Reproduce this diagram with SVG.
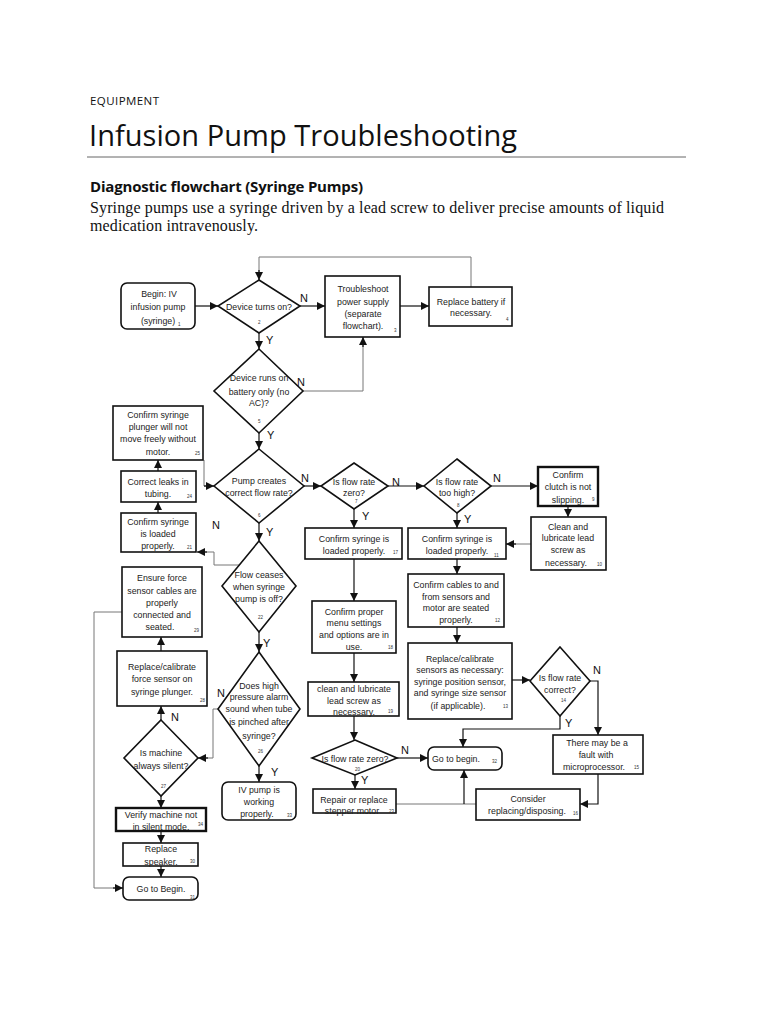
<svg xmlns="http://www.w3.org/2000/svg" width="768" height="1024" viewBox="0 0 768 1024">
<style>
.bg{fill:#fff}
.box{fill:#fff;stroke:#111;stroke-width:1.6}
.thick{stroke-width:2.4}
.t{font-family:"Liberation Sans",Arial,sans-serif;font-size:8.8px;text-anchor:middle;fill:#222}
.n{font-family:"Liberation Sans",Arial,sans-serif;font-size:4.5px;fill:#333}
.yn{font-family:"Liberation Sans",Arial,sans-serif;font-size:11px;fill:#111}
.c{fill:none;stroke:#111;stroke-width:1.2}
.g{fill:none;stroke:#777;stroke-width:1}
.hdr{font-family:"Open Sans","Liberation Sans",sans-serif;fill:#111}
.body{font-family:"Liberation Serif",serif;font-size:16px;fill:#111}
</style>
<defs>
<marker id="ah" markerUnits="userSpaceOnUse" markerWidth="9" markerHeight="9" refX="8" refY="4" orient="auto">
<path d="M0,0 L8,4 L0,8 z" fill="#111"/>
</marker>
</defs>
<rect class="bg" x="0" y="0" width="768" height="1024"/>
<g id="header">
<text class="hdr" x="90" y="105" font-size="11.5" textLength="69">EQUIPMENT</text>
<text class="hdr" x="89" y="146" font-size="29" textLength="428">Infusion Pump Troubleshooting</text>
<line x1="87" y1="157" x2="686" y2="157" stroke="#666" stroke-width="1"/>
<text class="hdr" x="90" y="192" font-size="15" font-weight="bold" textLength="273">Diagnostic flowchart (Syringe Pumps)</text>
<text class="body" x="90" y="213" textLength="574">Syringe pumps use a syringe driven by a lead screw to deliver precise amounts of liquid</text>
<text class="body" x="90" y="231" textLength="168">medication intravenously.</text>
</g>
<g id="connectors">
<path class="c" marker-end="url(#ah)" d="M195,306 H218"/>
<path class="c" marker-end="url(#ah)" d="M300,306 H325"/>
<path class="c" marker-end="url(#ah)" d="M400,306 H429"/>
<path class="g" d="M471,287 V257 H259 V272"/>
<path class="c" marker-end="url(#ah)" d="M259,270 V280"/>
<path class="c" marker-end="url(#ah)" d="M259,333 V349"/>
<path class="g" d="M303,391 H363 V345"/>
<path class="c" marker-end="url(#ah)" d="M363,347 V337"/>
<path class="c" marker-end="url(#ah)" d="M259,433 V449"/>
<path class="g" d="M204,460 V486 H206"/>
<path class="c" marker-end="url(#ah)" d="M204,486 H214"/>
<path class="c" marker-end="url(#ah)" d="M158,471 V460"/>
<path class="c" marker-end="url(#ah)" d="M158,513 V502"/>
<path class="g" d="M239,565 H214 V552 H205"/>
<path class="c" marker-end="url(#ah)" d="M207,552 H197"/>
<path class="c" marker-end="url(#ah)" d="M259,523 V541"/>
<path class="c" marker-end="url(#ah)" d="M259,632 V652"/>
<path class="g" d="M218,709 H213 V758 H206"/>
<path class="c" marker-end="url(#ah)" d="M208,758 H198"/>
<path class="c" marker-end="url(#ah)" d="M259,766 V782"/>
<path class="c" marker-end="url(#ah)" d="M161,720 V706"/>
<path class="c" marker-end="url(#ah)" d="M161,651 V637"/>
<path class="c" marker-end="url(#ah)" d="M161,796 V808"/>
<path class="c" marker-end="url(#ah)" d="M161,831 V843"/>
<path class="c" marker-end="url(#ah)" d="M161,866 V877"/>
<path class="g" d="M122,612 H94 V888 H115"/>
<path class="c" marker-end="url(#ah)" d="M113,888 H123"/>
<path class="c" marker-end="url(#ah)" d="M304,486 H321"/>
<path class="c" marker-end="url(#ah)" d="M388,486 H424"/>
<path class="c" marker-end="url(#ah)" d="M491,486 H538"/>
<path class="c" marker-end="url(#ah)" d="M568,506 V517"/>
<path class="g" d="M531,544 H514"/>
<path class="c" marker-end="url(#ah)" d="M516,544 H506"/>
<path class="c" marker-end="url(#ah)" d="M457,513 V528"/>
<path class="c" marker-end="url(#ah)" d="M354,509 V528"/>
<path class="c" marker-end="url(#ah)" d="M354,559 V601"/>
<path class="c" marker-end="url(#ah)" d="M354,653 V682"/>
<path class="c" marker-end="url(#ah)" d="M354,716 V740"/>
<path class="c" marker-end="url(#ah)" d="M397,758 H428"/>
<path class="c" marker-end="url(#ah)" d="M355,775 V789"/>
<path class="g" d="M396,804 H476"/>
<path class="c" marker-end="url(#ah)" d="M464,804 V770"/>
<path class="c" marker-end="url(#ah)" d="M457,559 V574"/>
<path class="c" marker-end="url(#ah)" d="M457,627 V643"/>
<path class="c" marker-end="url(#ah)" d="M512,680 H530"/>
<path class="c" marker-end="url(#ah)" d="M590,681 H598 V735"/>
<path class="c" marker-end="url(#ah)" d="M560,716 V729 H463 V747"/>
<path class="c" marker-end="url(#ah)" d="M598,774 V804 H580"/>
</g>
<g id="labels">
<text class="yn" x="300" y="302">N</text>
<text class="yn" x="266" y="344">Y</text>
<text class="yn" x="297" y="386">N</text>
<text class="yn" x="267" y="439">Y</text>
<text class="yn" x="301" y="482">N</text>
<text class="yn" x="266" y="536">Y</text>
<text class="yn" x="212" y="529">N</text>
<text class="yn" x="392" y="486">N</text>
<text class="yn" x="362" y="520">Y</text>
<text class="yn" x="493" y="482">N</text>
<text class="yn" x="464" y="523">Y</text>
<text class="yn" x="263" y="647">Y</text>
<text class="yn" x="217" y="697">N</text>
<text class="yn" x="271" y="776">Y</text>
<text class="yn" x="171" y="721">N</text>
<text class="yn" x="593" y="674">N</text>
<text class="yn" x="565" y="727">Y</text>
<text class="yn" x="401" y="754">N</text>
<text class="yn" x="361" y="784">Y</text>
</g>
<g id="n1"><rect class="box" x="121" y="283" width="74" height="46" rx="6"/>
<text class="t" x="159" y="297">Begin: IV</text><text class="t" x="158" y="310">infusion pump</text><text class="t" x="158" y="324">(syringe)</text><text class="n" x="178" y="326">1</text></g>
<g id="n2"><polygon class="box" points="259,280 300,306 259,333 218,306"/>
<text class="t" x="259" y="310">Device turns on?</text><text class="n" x="258" y="324">2</text></g>
<g id="n3"><rect class="box" x="325" y="276" width="75" height="61"/>
<text class="t" x="363" y="292">Troubleshoot</text><text class="t" x="363" y="305">power supply</text><text class="t" x="363" y="317">(separate</text><text class="t" x="363" y="329">flowchart).</text><text class="n" x="394" y="332">3</text></g>
<g id="n4"><rect class="box" x="429" y="287" width="83" height="39"/>
<text class="t" x="471" y="305">Replace battery if</text><text class="t" x="471" y="316">necessary.</text><text class="n" x="506" y="321">4</text></g>
<g id="n5"><polygon class="box" points="259,349 303,391 259,433 214,391"/>
<text class="t" x="259" y="381">Device runs on</text><text class="t" x="259" y="395">battery only (no</text><text class="t" x="259" y="406">AC)?</text><text class="n" x="258" y="423">5</text></g>
<g id="n25"><rect class="box" x="113" y="406" width="90" height="54"/>
<text class="t" x="158" y="418">Confirm syringe</text><text class="t" x="158" y="430">plunger will not</text><text class="t" x="158" y="442">move freely without</text><text class="t" x="158" y="455">motor.</text><text class="n" x="195" y="455">25</text></g>
<g id="n24"><rect class="box" x="121" y="471" width="75" height="31"/>
<text class="t" x="158" y="485">Correct leaks in</text><text class="t" x="158" y="497">tubing.</text><text class="n" x="187" y="498">24</text></g>
<g id="n21"><rect class="box" x="121" y="513" width="75" height="39"/>
<text class="t" x="158" y="525">Confirm syringe</text><text class="t" x="158" y="537">is loaded</text><text class="t" x="158" y="549">properly.</text><text class="n" x="187" y="549">21</text></g>
<g id="n6"><polygon class="box" points="259,449 304,486 259,523 214,486"/>
<text class="t" x="259" y="484">Pump creates</text><text class="t" x="259" y="496">correct flow rate?</text><text class="n" x="258" y="517">6</text></g>
<g id="n7"><polygon class="box" points="354,463 388,486 354,509 321,486"/>
<text class="t" x="354" y="485">Is flow rate</text><text class="t" x="354" y="496">zero?</text><text class="n" x="355" y="503">7</text></g>
<g id="n8"><polygon class="box" points="457,459 491,486 457,513 424,486"/>
<text class="t" x="457" y="485">Is flow rate</text><text class="t" x="457" y="496">too high?</text><text class="n" x="457" y="507">8</text></g>
<g id="n9"><rect class="box thick" x="538" y="467" width="60" height="39"/>
<text class="t" x="568" y="478">Confirm</text><text class="t" x="568" y="490">clutch is not</text><text class="t" x="568" y="503">slipping.</text><text class="n" x="592" y="501">9</text></g>
<g id="n10"><rect class="box" x="531" y="517" width="75" height="53"/>
<text class="t" x="568" y="530">Clean and</text><text class="t" x="568" y="541">lubricate lead</text><text class="t" x="568" y="553">screw as</text><text class="t" x="566" y="566">necessary.</text><text class="n" x="597" y="566">10</text></g>
<g id="n11"><rect class="box" x="408" y="528" width="98" height="31"/>
<text class="t" x="457" y="542">Confirm syringe is</text><text class="t" x="457" y="554">loaded properly.</text><text class="n" x="494" y="557">11</text></g>
<g id="n17"><rect class="box" x="305" y="528" width="97" height="31"/>
<text class="t" x="354" y="542">Confirm syringe is</text><text class="t" x="354" y="554">loaded properly.</text><text class="n" x="393" y="554">17</text></g>
<g id="n18"><rect class="box" x="312" y="601" width="84" height="52"/>
<text class="t" x="354" y="615">Confirm proper</text><text class="t" x="354" y="626">menu settings</text><text class="t" x="354" y="638">and options are in</text><text class="t" x="354" y="650">use.</text><text class="n" x="388" y="649">18</text></g>
<g id="n19"><rect class="box" x="308" y="682" width="91" height="34"/>
<text class="t" x="354" y="692">clean and lubricate</text><text class="t" x="354" y="704">lead screw as</text><text class="t" x="354" y="715">necessary.</text><text class="n" x="388" y="713">19</text></g>
<g id="n20"><polygon class="box" points="355,740 397,758 355,775 312,758"/>
<text class="t" x="355" y="762">Is flow rate zero?</text><text class="n" x="355" y="771">20</text></g>
<g id="n32"><rect class="box" x="428" y="747" width="74" height="23" rx="6"/>
<text class="t" x="456" y="762">Go to begin.</text><text class="n" x="492" y="763">32</text></g>
<g id="n23"><rect class="box" x="313" y="789" width="83" height="24"/>
<text class="t" x="354" y="803">Repair or replace</text><text class="t" x="352" y="814">stepper motor</text><text class="n" x="389" y="813">23</text></g>
<g id="n12"><rect class="box" x="408" y="574" width="96" height="53"/>
<text class="t" x="456" y="588">Confirm cables to and</text><text class="t" x="456" y="600">from sensors and</text><text class="t" x="456" y="611">motor are seated</text><text class="t" x="456" y="623">properly.</text><text class="n" x="495" y="622">12</text></g>
<g id="n13"><rect class="box" x="408" y="643" width="104" height="76"/>
<text class="t" x="460" y="662">Replace/calibrate</text><text class="t" x="460" y="673">sensors as necessary:</text><text class="t" x="460" y="685">syringe position sensor,</text><text class="t" x="460" y="696">and syringe size sensor</text><text class="t" x="458" y="709">(if applicable).</text><text class="n" x="503" y="708">13</text></g>
<g id="n14"><polygon class="box" points="560,647 590,681 560,716 530,681"/>
<text class="t" x="560" y="681">Is flow rate</text><text class="t" x="560" y="693">correct?</text><text class="n" x="561" y="702">14</text></g>
<g id="n15"><rect class="box" x="553" y="735" width="90" height="39"/>
<text class="t" x="597" y="746">There may be a</text><text class="t" x="596" y="758">fault with</text><text class="t" x="594" y="770">microprocessor.</text><text class="n" x="634" y="769">15</text></g>
<g id="n16"><rect class="box" x="476" y="789" width="104" height="31"/>
<text class="t" x="528" y="802">Consider</text><text class="t" x="527" y="814">replacing/disposing.</text><text class="n" x="573" y="815">16</text></g>
<g id="n22"><polygon class="box" points="259,541 296,586 259,632 222,586"/>
<text class="t" x="259" y="578">Flow ceases</text><text class="t" x="259" y="590">when syringe</text><text class="t" x="259" y="602">pump is off?</text><text class="n" x="258" y="619">22</text></g>
<g id="n26"><polygon class="box" points="259,652 300,709 259,766 218,709"/>
<text class="t" x="259" y="689">Does high</text><text class="t" x="259" y="700">pressure alarm</text><text class="t" x="259" y="712">sound when tube</text><text class="t" x="259" y="725">is pinched after</text><text class="t" x="259" y="739">syringe?</text><text class="n" x="258" y="753">26</text></g>
<g id="n33"><rect class="box" x="222" y="782" width="74" height="38" rx="6"/>
<text class="t" x="259" y="793">IV pump is</text><text class="t" x="259" y="805">working</text><text class="t" x="257" y="817">properly.</text><text class="n" x="287" y="817">33</text></g>
<g id="n29"><rect class="box" x="122" y="567" width="80" height="70"/>
<text class="t" x="162" y="581">Ensure force</text><text class="t" x="162" y="594">sensor cables are</text><text class="t" x="162" y="606">properly</text><text class="t" x="162" y="618">connected and</text><text class="t" x="160" y="630">seated.</text><text class="n" x="194" y="632">29</text></g>
<g id="n28"><rect class="box" x="117" y="651" width="90" height="55"/>
<text class="t" x="162" y="670">Replace/calibrate</text><text class="t" x="162" y="682">force sensor on</text><text class="t" x="162" y="695">syringe plunger.</text><text class="n" x="200" y="702">28</text></g>
<g id="n27"><polygon class="box" points="161,720 198,758 161,796 124,758"/>
<text class="t" x="161" y="756">Is machine</text><text class="t" x="161" y="769">always silent?</text><text class="n" x="161" y="788">27</text></g>
<g id="n34"><rect class="box thick" x="116" y="808" width="90" height="23"/>
<text class="t" x="161" y="818">Verify machine not</text><text class="t" x="161" y="830">in silent mode.</text><text class="n" x="198" y="826">34</text></g>
<g id="n30"><rect class="box" x="123" y="843" width="75" height="23"/>
<text class="t" x="161" y="852">Replace</text><text class="t" x="161" y="865">speaker.</text><text class="n" x="190" y="863">30</text></g>
<g id="n31"><rect class="box" x="123" y="877" width="75" height="23" rx="6"/>
<text class="t" x="161" y="892">Go to Begin.</text><text class="n" x="190" y="899">31</text></g>
</svg>
